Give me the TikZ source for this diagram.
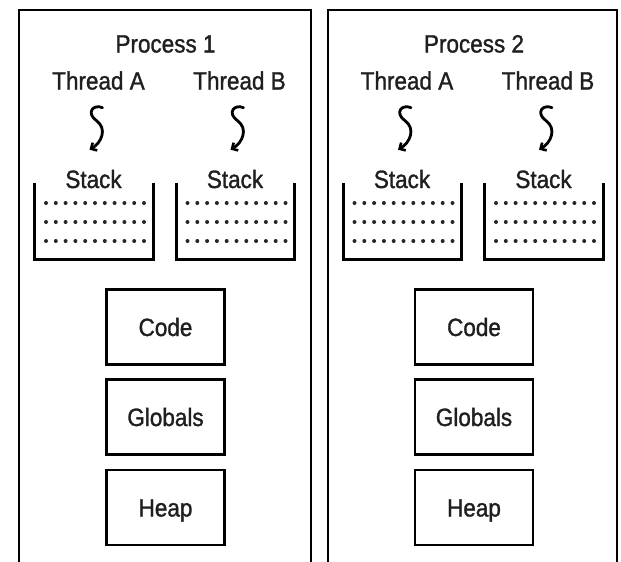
\documentclass[tikz,border=0pt]{standalone}
\usepackage{fontspec}
\setmainfont[FakeStretch=0.9,FakeBold=1.2]{Liberation Sans}
\usetikzlibrary{arrows.meta,calc}
\begin{document}
\begin{tikzpicture}[x=1pt,y=-1pt,
  lbl/.style={font=\fontsize{25}{25}\selectfont, text=black!88, inner sep=0pt, text height=18pt, text depth=0pt},
  seg/.style={draw, line width=2.8pt, minimum width=118pt, minimum height=75pt, inner sep=0pt,
    font=\fontsize{25}{25}\selectfont, text=black!88, text height=18pt, text depth=0pt},
  bucket/.style={minimum width=118pt, minimum height=76pt, inner sep=0pt},
  wall/.style={line width=2.8pt, line join=miter},
  outer/.style={line width=2.4pt},
  squig/.style={line width=2.8pt, line cap=round, -{Straight Barb[length=4.5pt,width=9pt,line width=2.6pt]}},
  dotfill/.style={fill=black!85}]
\useasboundingbox (0,0) rectangle (621,562);
\fill[white] (0,0) rectangle (621,562);
\coordinate (o1a) at (19,563);
\coordinate (o1b) at (19,10);
\coordinate (o1c) at (311,10);
\coordinate (o1d) at (311,563);
\coordinate (o2a) at (328,563);
\coordinate (o2b) at (328,10);
\coordinate (o2c) at (617,10);
\coordinate (o2d) at (617,563);
\draw[outer] (o1a) -- (o1b) -- (o1c) -- (o1d);
\draw[outer] (o2a) -- (o2b) -- (o2c) -- (o2d);
\foreach \p/\ox in {1/0,2/308.5}{
\begin{scope}[xshift=\ox]
 \node[lbl] (proc\p) at (165.5,43.5) {Process \p};
 \node[lbl] (ta\p) at (98.5,80.5) {Thread A};
 \node[lbl] (tb\p) at (239.5,80.5) {Thread B};
 \node[lbl] (sa\p) at (93.5,179) {Stack};
 \node[lbl] (sb\p) at (235,179) {Stack};
 \node[bucket] (ba\p) at (94,221) {};
 \node[bucket] (bb\p) at (235.5,221) {};
 \draw[wall] (ba\p.north west) -- (ba\p.south west) -- (ba\p.south east) -- (ba\p.north east);
 \draw[wall] (bb\p.north west) -- (bb\p.south west) -- (bb\p.south east) -- (bb\p.north east);
 \foreach \r in {-18,1,20}{
   \foreach \i in {0,...,10}{
     \fill[dotfill] ($(ba\p.center)+(-48+\i*9.8,\r)$) circle (2);
     \fill[dotfill] ($(bb\p.center)+(-48+\i*9.8,\r)$) circle (2);
   }
 }
 \node[seg] (code\p) at (165.5,327) {Code};
 \node[seg] (glob\p) at (165.5,417) {Globals};
 \node[seg] (heap\p) at (165.5,507.5) {Heap};
 \draw[squig] ($(ta\p.south)+(4,18)$) .. controls +(-9,-4) and +(-11,-8) .. ++(-6,13)
   .. controls +(11,8) and +(12,-7) .. ++(-7,29);
 \draw[squig] ($(tb\p.south)+(4,18)$) .. controls +(-9,-4) and +(-11,-8) .. ++(-6,13)
   .. controls +(11,8) and +(12,-7) .. ++(-7,29);
\end{scope}
}
\end{tikzpicture}
\end{document}
